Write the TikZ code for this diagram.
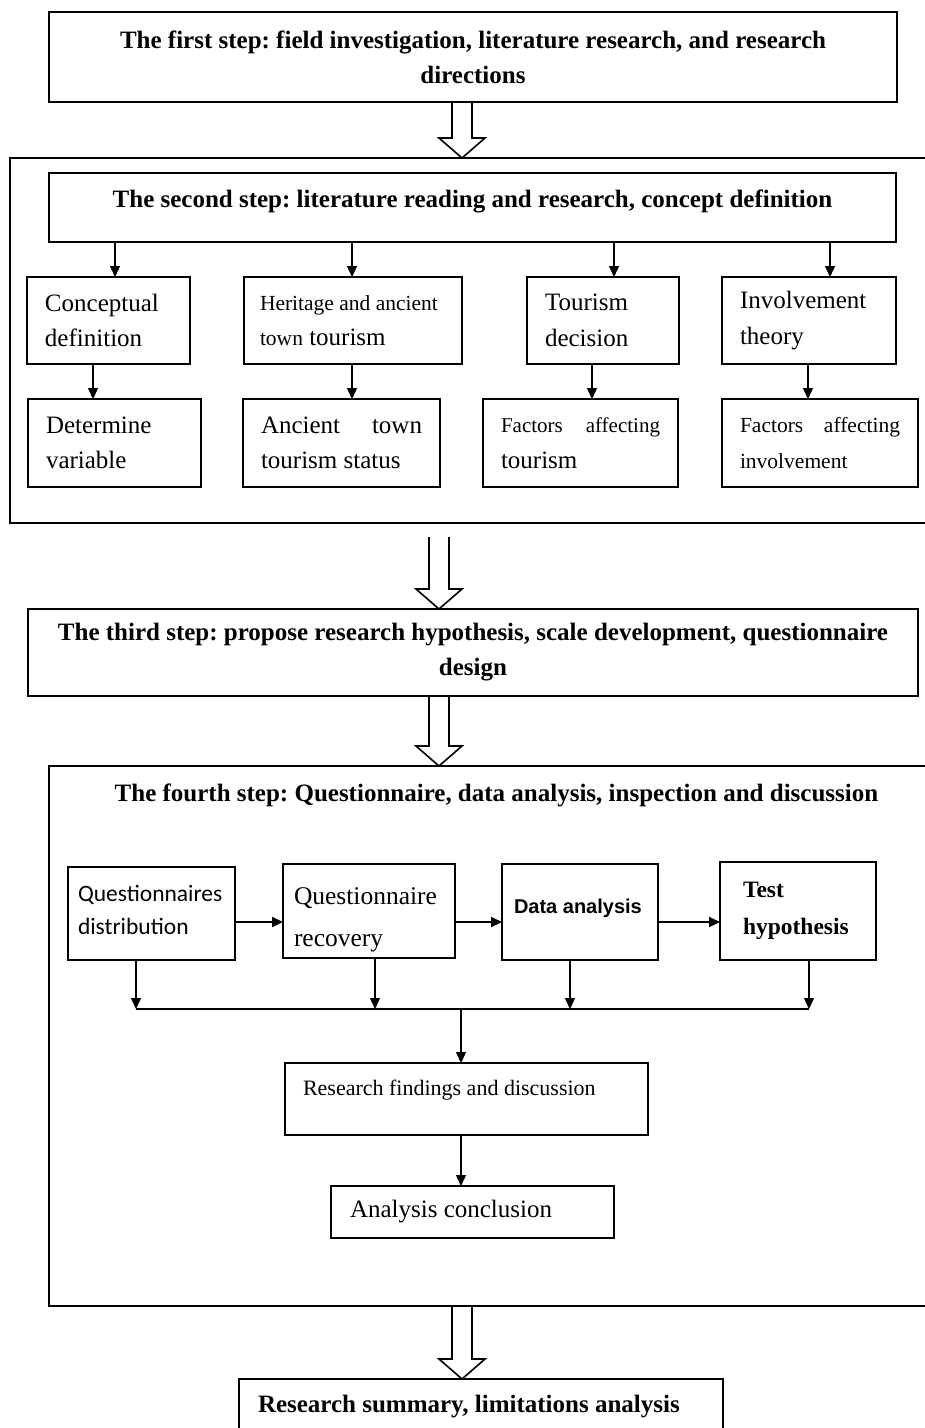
\documentclass[tikz,border=0pt]{standalone}
\usepackage{fontspec}
\setmainfont{Liberation Serif}
\newfontfamily\calfont{Carlito}
\newfontfamily\arialfont{Liberation Sans}
\usetikzlibrary{arrows.meta,calc}
\frenchspacing

\newcommand\fsz[2]{\fontsize{#1}{#2}\selectfont}

% box node given by its corners (x1,y1)-(x2,y2) and a horizontal padding
\newcommand\bnode[8][]{%
  \pgfmathsetmacro\bw{#5-#3}%
  \pgfmathsetmacro\bh{#6-#4}%
  \pgfmathsetmacro\tw{#5-#3-2*#7}%
  \node[box,#1,inner xsep=#7pt,text width=\tw pt,minimum width=\bw pt,minimum height=\bh pt]
    (#2) at ({(#3+#5)/2},{(#4+#6)/2}) {#8};}

% hollow block arrow at horizontal position #1 from #2 down to #3, starting #4 below #2
\newcommand\hollowarrow[4]{%
  \draw[hollow] let \p1=(#2.south), \p2=(#3.north) in
    (#1pt-10pt,\y1-#4pt) -- (#1pt-10pt,\y2+20pt) -- (#1pt-23pt,\y2+20pt) -- (#1pt,\y2)
    -- (#1pt+23pt,\y2+20pt) -- (#1pt+10pt,\y2+20pt) -- (#1pt+10pt,\y1-#4pt);}

\begin{document}
\begin{tikzpicture}[x=1pt,y=-1pt,
  box/.style={draw, rectangle, line width=1.6pt, inner ysep=2pt, outer sep=0pt, align=flush left, font={\fsz{25}{35.5}}},
  boldbox/.style={box, align=flush center, font={\fsz{25}{35}\bfseries}},
  thickbox/.style={box, line width=2.6pt},
  frame/.style={draw, rectangle, outer sep=0pt, inner sep=0pt},
  arr/.style={line width=1.3pt, -{Triangle[length=11pt,width=10pt]}},
  harr/.style={arr, line width=2pt},
  hollow/.style={line width=1.6pt, line join=miter},
]
\useasboundingbox (0,0) rectangle (925,1428);
\clip (0,0) rectangle (925,1428);

% ---- step 1
\bnode[boldbox]{s1}{49}{12}{897}{102}{10}{The first step: field investigation, literature research, and research\\directions}

% ---- step 2
\node[frame, line width=2.6pt, minimum width=940pt, minimum height=365pt] (f2) at (480,340.5) {};
\bnode[boldbox]{s2}{49}{173}{896}{242}{10}{The second step: literature reading and research, concept definition\par\kern12pt}

\bnode{cd}{27}{277}{190}{364}{18}{Conceptual\\definition}
\bnode{ht}{244}{277}{462}{364}{16}{{\fsz{21.5}{36}Heritage and ancient}\\{\fsz{21.5}{36}town} tourism}
\bnode{td}{527}{277}{679}{364}{18}{Tourism\\decision}
\bnode{it}{722}{277}{896}{364}{18}{Involvement\\theory}

\bnode{dv}{28}{399}{201}{487}{18}{Determine\\variable}
\bnode{at}{243}{399}{440}{487}{18}{Ancient\hfill town\\tourism status}
\bnode{fa}{483}{399}{678}{487}{18}{{\fsz{21}{36}Factors\hfill affecting}\\tourism}
\bnode{fi}{722}{399}{918}{487}{18}{\fsz{21.5}{36}Factors\hfill affecting\\involvement}

\draw[arr] ([xshift=6.5pt]cd.north |- s2.south) -- ([xshift=6.5pt]cd.north);
\draw[arr] ([xshift=-1pt]ht.north |- s2.south) -- ([xshift=-1pt]ht.north);
\draw[arr] ([xshift=11pt]td.north |- s2.south) -- ([xshift=11pt]td.north);
\draw[arr] ([xshift=21pt]it.north |- s2.south) -- ([xshift=21pt]it.north);

\draw[arr] ([xshift=-15.5pt]cd.south) -- ([xshift=-15.5pt]cd.south |- dv.north);
\draw[arr] ([xshift=-1pt]ht.south) -- ([xshift=-1pt]ht.south |- at.north);
\draw[arr] ([xshift=-11pt]td.south) -- ([xshift=-11pt]td.south |- fa.north);
\draw[arr] ([xshift=-1pt]it.south) -- ([xshift=-1pt]it.south |- fi.north);

% ---- step 3
\bnode[boldbox]{s3}{28}{609}{918}{696}{5}{The third step: propose research hypothesis, scale development, questionnaire\\design}

% ---- step 4
\node[frame, line width=1.8pt, minimum width=901pt, minimum height=540pt] (f4) at (499.5,1036) {};
\node[font={\fsz{25}{30}\bfseries}, inner sep=0pt] (s4) at (496.5,795) {The fourth step: Questionnaire, data analysis, inspection and discussion};

\bnode[thickbox,font={\calfont\fsz{23.5}{33}}]{qd}{68}{867}{235}{960}{10}{Questionnaires\\distribution\par\kern8pt}
\bnode[thickbox,font={\fsz{25.5}{42}}]{qr}{283}{864}{455}{958}{11}{Questionnaire\\recovery\par\kern-18pt}
\bnode[thickbox,font={\arialfont\bfseries\fsz{20}{28}}]{da}{502}{864}{658}{960}{12}{Data analysis\par\kern8pt}
\bnode[thickbox,font={\bfseries\fsz{23.5}{37}}]{th}{720}{862}{876}{960}{23}{Test\\hypothesis}

\coordinate (hy) at (0,922);
\draw[harr] (qd.east |- hy) -- (qr.west |- hy);
\draw[harr] (qr.east |- hy) -- (da.west |- hy);
\draw[harr] (da.east |- hy) -- (th.west |- hy);

\coordinate (busL) at (136,1009);
\coordinate (busR) at (809,1009);
\coordinate (busM) at (461,1009);
\draw[arr] ([xshift=-15.5pt]qd.south) -- ([xshift=-15.5pt]qd.south |- busL);
\draw[arr] ([xshift=6pt]qr.south) -- ([xshift=6pt]qr.south |- busL);
\draw[arr] ([xshift=-10pt]da.south) -- ([xshift=-10pt]da.south |- busL);
\draw[arr] ([xshift=11pt]th.south) -- ([xshift=11pt]th.south |- busL);
\draw[line width=1.3pt] (busL) -- (busR);

\bnode{rf}{285}{1063}{648}{1135}{18}{\fsz{22}{30}Research findings and discussion\par\kern18pt}
\bnode{ac}{331}{1186}{614}{1238}{19}{Analysis conclusion}

\draw[arr] (busM) -- (rf.north -| busM);
\draw[arr] (rf.south -| busM) -- (ac.north -| busM);

% ---- final step
\bnode[boldbox,align=flush left]{s5}{239}{1379}{723}{1435}{19}{Research summary, limitations analysis}

% ---- block arrows between the steps
\hollowarrow{462}{s1}{f2}{0}
\hollowarrow{439}{f2}{s3}{14}
\hollowarrow{439}{s3}{f4}{0}
\hollowarrow{462}{f4}{s5}{0}
\end{tikzpicture}
\end{document}
